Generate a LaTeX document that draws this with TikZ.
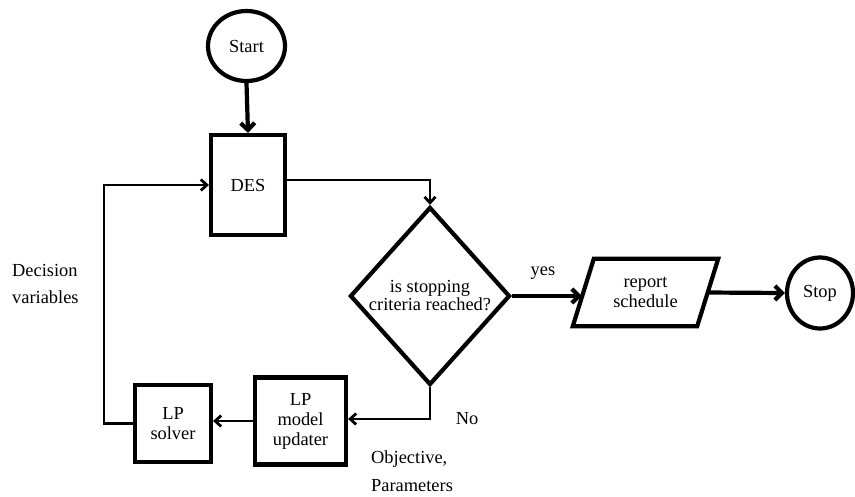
\documentclass[tikz,border=0pt]{standalone}
\usepackage{fontspec}
\setmainfont{Liberation Serif}
\usetikzlibrary{shapes.geometric,arrows.meta,calc}
\begin{document}
\begin{tikzpicture}[x=1pt,y=-1pt,
  font=\fontsize{18.4}{20}\selectfont,
  thickline/.style={line width=4.2pt},
  thinline/.style={line width=2.8pt},
  box/.style={draw,thickline,rectangle,inner sep=0pt,align=center},
  term/.style={draw,thickline,ellipse,inner sep=0pt},
  thickarrow/.style={thickline,-{Straight Barb[length=7pt,width=14pt]}},
  thinarrow/.style={thinline,-{Straight Barb[length=6pt,width=11pt]}},
  lbl/.style={inner sep=0pt}
]
\useasboundingbox (0,0) rectangle (855,496);
\node[term,minimum width=77pt,minimum height=70pt] (start) at (246.5,46) {Start};
\node[box,minimum width=74pt,minimum height=100pt] (des) at (248,185) {DES};
\node[draw,thickline,diamond,inner sep=0pt,minimum width=160pt,minimum height=178pt,align=center] (dia) at (430,296) {is stopping\\[-2pt]criteria reached?};
\node[inner sep=0pt,minimum width=145pt,minimum height=67pt,align=center] (report) at (645.5,292.5) {report\\schedule};
\draw[thickline] ([xshift=21pt]report.north west) -- (report.north east) -- ([xshift=-21pt]report.south east) -- (report.south west) -- cycle;
\node[term,minimum width=66pt,minimum height=71pt] (stop) at (820,293) {Stop};
\node[box,minimum width=91pt,minimum height=87pt] (upd) at (300.5,421) {LP\\model\\updater};
\node[box,minimum width=76pt,minimum height=77pt] (solver) at (173,423.5) {LP\\solver};

\draw[thickarrow] (start.south) -- (des.north);
\draw[thinarrow] ([yshift=5pt]des.east) -| (dia.north);
\draw[thickarrow] (dia.east) -- ([xshift=9pt]dia.east -| report.west);
\draw[thickarrow] ([xshift=-11pt]report.east) -- (stop.west);
\draw[thinarrow] (dia.south) |- ([yshift=2pt]upd.east);
\draw[thinarrow] (upd.west) -- (upd.west -| solver.east);
\draw[thinarrow] (solver.west) -- ++(-29,0) |- (des.west);

\node[lbl] (yes) at (543,273) {yes};
\node[lbl] (no) at (467,419) {No};
\node[lbl,anchor=west,align=left,font=\fontsize{18.4}{27}\selectfont] (dv) at (12,284) {Decision\\variables};
\node[lbl,anchor=west,align=left,font=\fontsize{18.4}{28}\selectfont] (op) at (371,471) {Objective,\\Parameters};
\end{tikzpicture}
\end{document}
